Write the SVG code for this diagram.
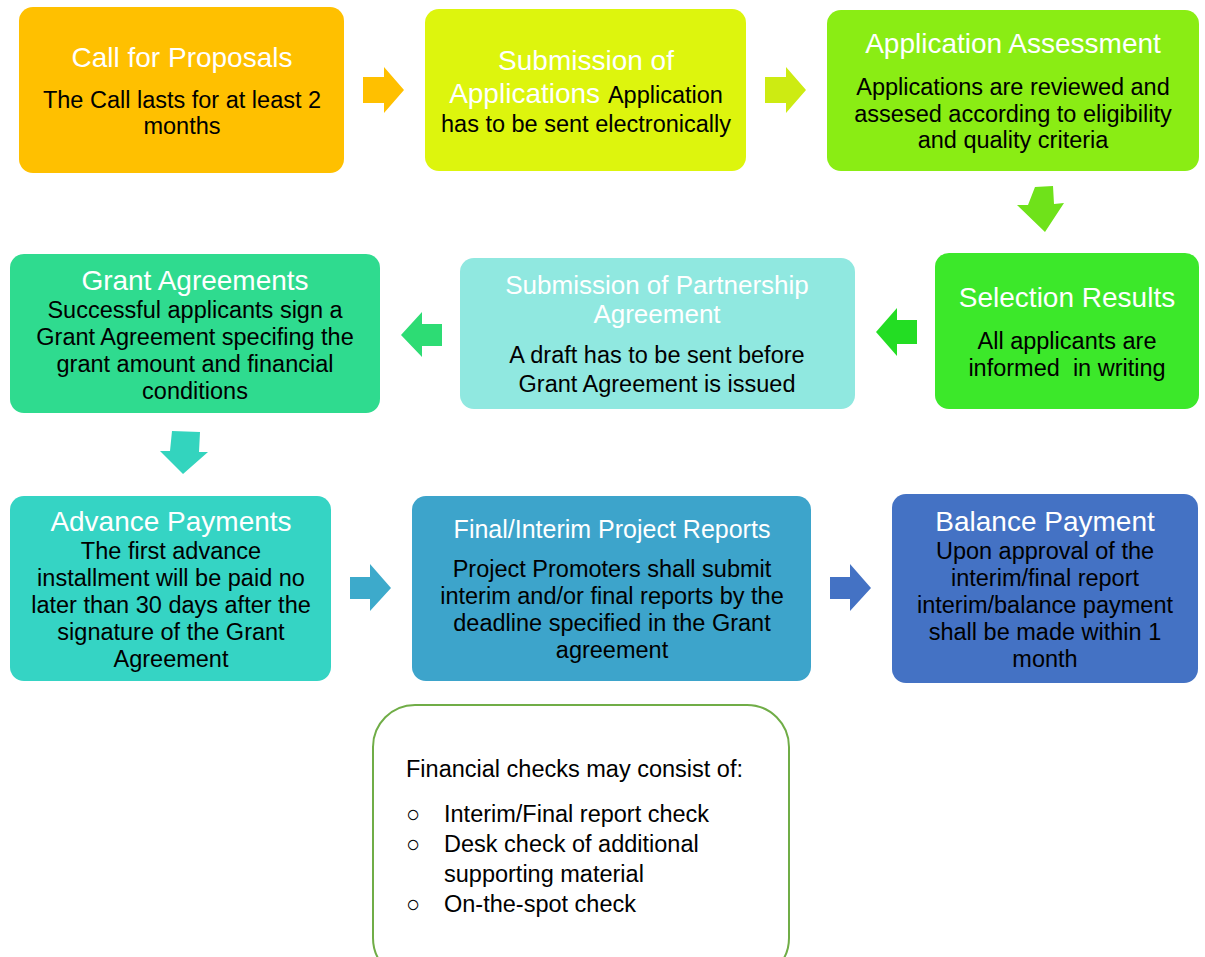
<svg xmlns="http://www.w3.org/2000/svg" width="1205" height="957" viewBox="0 0 1205 957">
<style>
text{font-family:"Liberation Sans",Arial,sans-serif;text-anchor:middle}
.t{fill:#fff;font-size:28px}
.b{fill:#000;font-size:23.5px}
.f{fill:#000;font-size:23.5px;text-anchor:start}
</style>
<rect width="1205" height="957" fill="#fff"/>
<g id="connectors">
<polygon points="363,77 384,77 384,67 404,90 384,113 384,103 363,103" fill="#FFC000"/>
<polygon points="765,77 786,77 786,67 806,90 786,113 786,103 765,103" fill="#CDEB12"/>
<polygon points="1035,187 1053,186 1054,204 1064,203 1045,232 1017,205 1028,205" fill="#6FE21A"/>
<polygon points="917,320 897,320 897,308 876,332 897,356 897,344 917,344" fill="#23DD23"/>
<polygon points="442,324 422,324 422,312 401,335 422,357 422,346 442,346" fill="#2DDC74"/>
<polygon points="172,431 200,432 199,452 208,452 183,474 160,451 170,451" fill="#33D4BE"/>
<polygon points="350,577 370,577 370,564 391,588 370,611 370,599 350,599" fill="#3DAACB"/>
<polygon points="830,577 850,577 850,564 871,588 850,611 850,599 830,599" fill="#4472C4"/>
</g>
<g id="n1">
<rect x="19" y="7" width="325" height="166" rx="14" fill="#FFC000"/>
<text class="t" x="182" y="67">Call for Proposals</text>
<text class="b" x="182" y="108">The Call lasts for at least 2</text>
<text class="b" x="182" y="134">months</text>
</g>
<g id="n2">
<rect x="425" y="9" width="321" height="162" rx="14" fill="#DDF50D"/>
<text class="t" x="586" y="70">Submission of</text>
<text x="586" y="103"><tspan class="t">Applications </tspan><tspan class="b">Application</tspan></text>
<text class="b" x="586" y="132">has to be sent electronically</text>
</g>
<g id="n3">
<rect x="827" y="10" width="372" height="161" rx="14" fill="#8AED14"/>
<text class="t" x="1013" y="53">Application Assessment</text>
<text class="b" x="1013" y="95">Applications are reviewed and</text>
<text class="b" x="1013" y="122">assesed according to eligibility</text>
<text class="b" x="1013" y="148">and quality criteria</text>
</g>
<g id="n4">
<rect x="935" y="253" width="264" height="156" rx="14" fill="#3CE82A"/>
<text class="t" x="1067" y="307">Selection Results</text>
<text class="b" x="1067" y="349">All applicants are</text>
<text class="b" x="1067" y="376" style="white-space:pre">informed  in writing</text>
</g>
<g id="n5">
<rect x="460" y="258" width="395" height="151" rx="14" fill="#90E8E0"/>
<text class="t" x="657" y="294" style="font-size:26px">Submission of Partnership</text>
<text class="t" x="657" y="323" style="font-size:26px">Agreement</text>
<text class="b" x="657" y="363">A draft has to be sent before</text>
<text class="b" x="657" y="392">Grant Agreement is issued</text>
</g>
<g id="n6">
<rect x="10" y="254" width="370" height="159" rx="14" fill="#2FDB8F"/>
<text class="t" x="195" y="290">Grant Agreements</text>
<text class="b" x="195" y="318">Successful applicants sign a</text>
<text class="b" x="195" y="345">Grant Agreement specifing the</text>
<text class="b" x="195" y="372">grant amount and financial</text>
<text class="b" x="195" y="399">conditions</text>
</g>
<g id="n7">
<rect x="10" y="496" width="321" height="185" rx="14" fill="#35D4C4"/>
<text class="t" x="171" y="531">Advance Payments</text>
<text class="b" x="171" y="559">The first advance</text>
<text class="b" x="171" y="586">installment will be paid no</text>
<text class="b" x="171" y="613">later than 30 days after the</text>
<text class="b" x="171" y="640">signature of the Grant</text>
<text class="b" x="171" y="667">Agreement</text>
</g>
<g id="n8">
<rect x="412" y="496" width="399" height="185" rx="14" fill="#3DA4CB"/>
<text class="t" x="612" y="538" style="font-size:25px">Final/Interim Project Reports</text>
<text class="b" x="612" y="577">Project Promoters shall submit</text>
<text class="b" x="612" y="604">interim and/or final reports by the</text>
<text class="b" x="612" y="631">deadline specified in the Grant</text>
<text class="b" x="612" y="658">agreement</text>
</g>
<g id="n9">
<rect x="892" y="494" width="306" height="189" rx="14" fill="#4472C4"/>
<text class="t" x="1045" y="531">Balance Payment</text>
<text class="b" x="1045" y="559">Upon approval of the</text>
<text class="b" x="1045" y="586">interim/final report</text>
<text class="b" x="1045" y="613">interim/balance payment</text>
<text class="b" x="1045" y="640">shall be made within 1</text>
<text class="b" x="1045" y="667">month</text>
</g>
<g id="n10">
<rect x="373" y="705" width="416" height="275" rx="42" fill="#fff" stroke="#70AD47" stroke-width="2"/>
<text class="f" x="406" y="777">Financial checks may consist of:</text>
<text class="f" x="406" y="822">○</text>
<text class="f" x="444" y="822">Interim/Final report check</text>
<text class="f" x="406" y="852">○</text>
<text class="f" x="444" y="852">Desk check of additional</text>
<text class="f" x="444" y="882">supporting material</text>
<text class="f" x="406" y="912">○</text>
<text class="f" x="444" y="912">On-the-spot check</text>
</g>
</svg>
